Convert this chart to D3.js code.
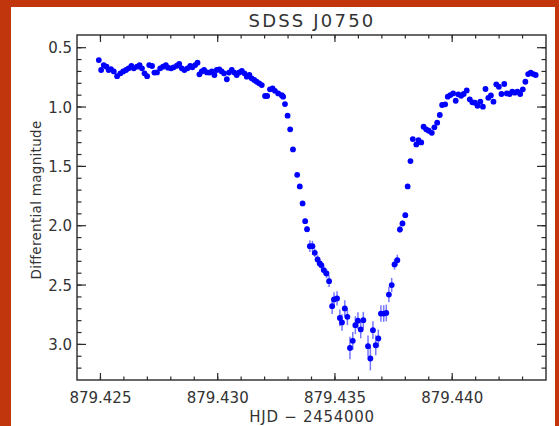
<!DOCTYPE html>
<html>
<head>
<meta charset="utf-8">
<script src="https://cdn.jsdelivr.net/npm/d3@7"></script>
<style>
  html, body { margin: 0; padding: 0; background: #fff; }
  svg text { font-family: "DejaVu Sans", sans-serif; fill: #333; }
</style>
</head>
<body>
<div id="chart"></div>
<script>
// data (HJD - 2454000, differential magnitude, error)
let hjd = [
  879.42493, 879.42503, 879.42514, 879.42526, 879.42535, 879.42545, 879.42557, 879.42571, 879.42585, 879.42597,
  879.42609, 879.42620, 879.42632, 879.42642, 879.42656, 879.42667, 879.42677, 879.42688, 879.42699, 879.42708,
  879.42720, 879.42730, 879.42741, 879.42755, 879.42767, 879.42779, 879.42788, 879.42801, 879.42812, 879.42826,
  879.42836, 879.42847, 879.42858, 879.42871, 879.42883, 879.42892, 879.42904, 879.42914, 879.42922, 879.42932,
  879.42942, 879.42954, 879.42965, 879.42975, 879.42986, 879.42996, 879.43007, 879.43017, 879.43027, 879.43039,
  879.43048, 879.43060, 879.43071, 879.43081, 879.43092, 879.43103, 879.43114, 879.43124, 879.43135, 879.43145,
  879.43156, 879.43166, 879.43177, 879.43188, 879.43202, 879.43211, 879.43223, 879.43234, 879.43244, 879.43258,
  879.43273, 879.43279, 879.43287, 879.43298, 879.43309, 879.43321, 879.43339, 879.43350, 879.43362, 879.43373,
  879.43381, 879.43393, 879.43404, 879.43414, 879.43426, 879.43435, 879.43442, 879.43452, 879.43464, 879.43475,
  879.43488, 879.43496, 879.43509, 879.43521, 879.43530, 879.43542, 879.43553, 879.43564, 879.43576, 879.43587,
  879.43598, 879.43610, 879.43621, 879.43641, 879.43651, 879.43662, 879.43674, 879.43685, 879.43696, 879.43708,
  879.43719, 879.43730, 879.43742, 879.43754, 879.43766, 879.43777, 879.43788, 879.43800, 879.43810, 879.43822,
  879.43832, 879.43847, 879.43856, 879.43868, 879.43878, 879.43889, 879.43900, 879.43913, 879.43924, 879.43936,
  879.43947, 879.43957, 879.43970, 879.43981, 879.43992, 879.44004, 879.44015, 879.44026, 879.44038, 879.44049,
  879.44062, 879.44075, 879.44086, 879.44097, 879.44108, 879.44120, 879.44131, 879.44142, 879.44154, 879.44165,
  879.44176, 879.44188, 879.44199, 879.44210, 879.44222, 879.44233, 879.44245, 879.44256, 879.44267, 879.44278,
  879.44290, 879.44301, 879.44312, 879.44324, 879.44335, 879.44346, 879.44356
];

let mag = [
  0.604, 0.688, 0.646, 0.660, 0.688, 0.680, 0.700, 0.740, 0.716, 0.700,
  0.688, 0.674, 0.654, 0.674, 0.660, 0.646, 0.674, 0.716, 0.740, 0.646,
  0.654, 0.710, 0.708, 0.674, 0.660, 0.646, 0.668, 0.674, 0.665, 0.652,
  0.637, 0.674, 0.688, 0.674, 0.654, 0.665, 0.646, 0.626, 0.724, 0.700,
  0.688, 0.708, 0.710, 0.700, 0.730, 0.688, 0.682, 0.700, 0.716, 0.766,
  0.710, 0.688, 0.710, 0.730, 0.708, 0.696, 0.716, 0.744, 0.730, 0.758,
  0.772, 0.787, 0.800, 0.815, 0.907, 0.907, 0.851, 0.843, 0.863, 0.885,
  0.900, 0.913, 0.975, 1.073, 1.188, 1.357, 1.571, 1.669, 1.812, 1.962,
  2.029, 2.172, 2.172, 2.229, 2.284, 2.318, 2.332, 2.374, 2.402, 2.467,
  2.678, 2.621, 2.613, 2.777, 2.815, 2.697, 2.768, 3.030, 2.970, 2.838,
  2.800, 2.874, 2.796, 3.015, 3.119, 2.880, 3.007, 2.950, 2.740, 2.740,
  2.735, 2.580, 2.500, 2.326, 2.290, 2.031, 1.981, 1.911, 1.669, 1.455,
  1.270, 1.315, 1.278, 1.298, 1.166, 1.188, 1.200, 1.217, 1.171, 1.132,
  1.067, 0.983, 0.977, 0.913, 0.899, 0.885, 0.947, 0.893, 0.905, 0.890,
  0.860, 0.935, 0.960, 0.964, 0.989, 0.955, 0.997, 0.848, 0.922, 0.902,
  0.955, 0.809, 0.829, 0.890, 0.806, 0.885, 0.890, 0.871, 0.879, 0.871,
  0.890, 0.851, 0.787, 0.722, 0.711, 0.722, 0.730
];

let magErr = [
  0.010, 0.010, 0.010, 0.010, 0.010, 0.010, 0.010, 0.010, 0.010, 0.010,
  0.010, 0.010, 0.010, 0.010, 0.010, 0.010, 0.010, 0.010, 0.010, 0.010,
  0.010, 0.010, 0.010, 0.010, 0.010, 0.010, 0.010, 0.010, 0.010, 0.010,
  0.010, 0.010, 0.010, 0.010, 0.010, 0.010, 0.010, 0.010, 0.010, 0.010,
  0.010, 0.010, 0.010, 0.010, 0.010, 0.010, 0.010, 0.010, 0.010, 0.010,
  0.010, 0.010, 0.010, 0.010, 0.010, 0.010, 0.010, 0.010, 0.010, 0.010,
  0.010, 0.010, 0.010, 0.010, 0.010, 0.010, 0.010, 0.010, 0.010, 0.010,
  0.010, 0.010, 0.010, 0.012, 0.012, 0.014, 0.016, 0.018, 0.020, 0.022,
  0.025, 0.050, 0.045, 0.035, 0.035, 0.035, 0.035, 0.040, 0.040, 0.050,
  0.065, 0.060, 0.060, 0.070, 0.070, 0.070, 0.070, 0.095, 0.075, 0.075,
  0.070, 0.075, 0.070, 0.090, 0.100, 0.075, 0.085, 0.075, 0.070, 0.070,
  0.070, 0.065, 0.060, 0.045, 0.045, 0.030, 0.025, 0.022, 0.018, 0.015,
  0.012, 0.012, 0.012, 0.012, 0.012, 0.012, 0.012, 0.012, 0.012, 0.012,
  0.010, 0.010, 0.010, 0.010, 0.010, 0.010, 0.010, 0.010, 0.010, 0.010,
  0.010, 0.010, 0.010, 0.010, 0.010, 0.010, 0.010, 0.010, 0.010, 0.010,
  0.010, 0.010, 0.010, 0.010, 0.010, 0.010, 0.010, 0.010, 0.010, 0.010,
  0.010, 0.010, 0.010, 0.010, 0.010, 0.010, 0.010
];

let xMajor = [879.425, 879.430, 879.435, 879.440];
let yMajor = [0.5, 1.0, 1.5, 2.0, 2.5, 3.0];

let titleText = "SDSS J0750";
let xTitle = "HJD \u2212 2454000";
let yTitle = "Differential magnitude";

// page and frame
let W = 559, H = 426;
let frame = {left: 77, right: 546, top: 35, bottom: 380};

let svg = d3.select("#chart").append("svg")
    .attr("width", W)
    .attr("height", H);

// orange border round the picture
svg.append("rect").attr("x", 0).attr("y", 0).attr("width", W).attr("height", H).attr("fill", "#c1360c");
svg.append("rect").attr("x", 11).attr("y", 7).attr("width", 544).attr("height", H - 7).attr("fill", "#fff");

// scales (y inverted: magnitudes)
let x = d3.scaleLinear().domain([879.424, 879.444]).range([frame.left, frame.right]);
let y = d3.scaleLinear().domain([0.393, 3.3]).range([frame.top, frame.bottom]);

let data = hjd.map((t, i) => ({t: t, m: mag[i], e: magErr[i]}));

// error bars
svg.append("g")
    .selectAll("line")
    .data(data)
    .join("line")
    .attr("x1", d => x(d.t))
    .attr("x2", d => x(d.t))
    .attr("y1", d => y(d.m - d.e))
    .attr("y2", d => y(d.m + d.e))
    .attr("stroke", "rgba(30,30,255,0.6)")
    .attr("stroke-width", 1.5);

// points
svg.append("g")
    .selectAll("circle")
    .data(data)
    .join("circle")
    .attr("cx", d => x(d.t))
    .attr("cy", d => y(d.m))
    .attr("r", 2.9)
    .attr("fill", "#0000ff");

// frame and ticks (IDL style, ticks pointing in)
let axisColor = "#2a2a2a";
svg.append("rect")
    .attr("x", frame.left).attr("y", frame.top)
    .attr("width", frame.right - frame.left).attr("height", frame.bottom - frame.top)
    .attr("fill", "none").attr("stroke", axisColor).attr("stroke-width", 1.4);

let xMinor = d3.range(1, 20).map(i => 879.424 + i * 0.001);
let yMinor = d3.range(5, 33).map(i => i / 10);

let ticks = svg.append("g").attr("stroke", axisColor).attr("stroke-width", 1.2);

function xTicks(vals, len) {
    ticks.selectAll(null).data(vals).join("line")
        .attr("x1", d => x(d)).attr("x2", d => x(d))
        .attr("y1", frame.bottom).attr("y2", frame.bottom - len);
    ticks.selectAll(null).data(vals).join("line")
        .attr("x1", d => x(d)).attr("x2", d => x(d))
        .attr("y1", frame.top).attr("y2", frame.top + len);
}
function yTicks(vals, len) {
    ticks.selectAll(null).data(vals).join("line")
        .attr("x1", frame.left).attr("x2", frame.left + len)
        .attr("y1", d => y(d)).attr("y2", d => y(d));
    ticks.selectAll(null).data(vals).join("line")
        .attr("x1", frame.right).attr("x2", frame.right - len)
        .attr("y1", d => y(d)).attr("y2", d => y(d));
}
xTicks(xMinor, 3.5);
xTicks(xMajor, 7);
yTicks(yMinor, 4.5);
yTicks(yMajor, 9);

// tick labels
svg.append("g").selectAll("text").data(xMajor).join("text")
    .attr("x", d => x(d))
    .attr("y", 403)
    .attr("text-anchor", "middle")
    .attr("font-size", 15)
    .text(d => d.toFixed(3));

svg.append("g").selectAll("text").data(yMajor).join("text")
    .attr("x", 72)
    .attr("y", d => y(d) + 5.5)
    .attr("text-anchor", "end")
    .attr("font-size", 15)
    .text(d => d.toFixed(1));

// titles
svg.append("text")
    .attr("x", 312).attr("y", 27)
    .attr("text-anchor", "middle")
    .attr("font-size", 18)
    .attr("letter-spacing", 2.2)
    .text(titleText);

svg.append("text")
    .attr("x", 312).attr("y", 422)
    .attr("text-anchor", "middle")
    .attr("font-size", 15)
    .attr("letter-spacing", 0.7)
    .text(xTitle);

svg.append("text")
    .attr("transform", "translate(41," + 200 + ") rotate(-90)")
    .attr("text-anchor", "middle")
    .attr("font-size", 13.5)
    .attr("letter-spacing", 0.3)
    .text(yTitle);
</script>
</body>
</html>
